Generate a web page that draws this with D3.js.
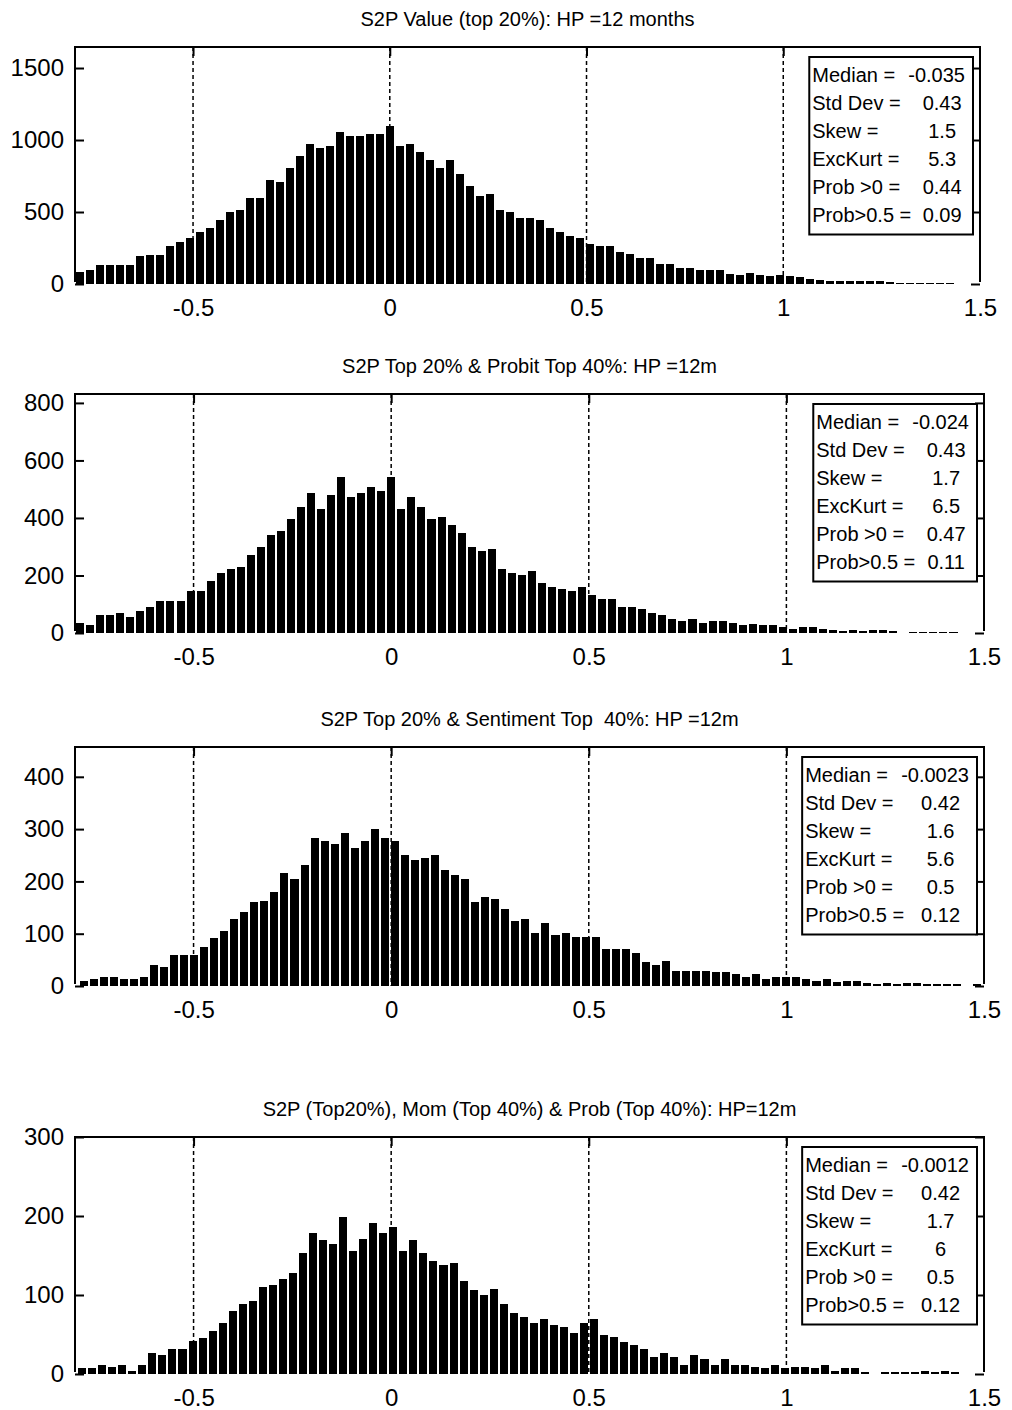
<!DOCTYPE html>
<html>
<head>
<meta charset="utf-8">
<script src="https://cdn.jsdelivr.net/npm/d3@7"></script>
<style>
  body { margin: 0; background: #fff; }
  svg { display: block; font-family: "Liberation Sans", Arial, sans-serif; }
  text { white-space: pre; }
</style>
</head>
<body>
<svg id="chart" width="1012" height="1410"></svg>
<script>
// Panel titles
const titles = [
  "S2P Value (top 20%): HP =12 months",
  "S2P Top 20% & Probit Top 40%: HP =12m",
  "S2P Top 20% & Sentiment Top  40%: HP =12m",
  "S2P (Top20%), Mom (Top 40%) & Prob (Top 40%): HP=12m"
];

// x axis (same for all four)
const xDomain = [-0.8, 1.5];
const xTicks = [-0.5, 0, 0.5, 1, 1.5];
const gridTicks = [-0.5, 0, 0.5, 1];

// histogram bins: centre of first bin per panel, common width
const firstBin = [-0.787, -0.787, -0.778, -0.782];
const binWidth = 0.0254;

// bar heights (counts per bin)
const counts1 = [81, 95, 134, 134, 134, 134, 192, 204, 204, 262, 289, 319, 359, 387, 444, 500, 512, 595, 595, 720,
  706, 803, 889, 970, 944, 958, 1053, 1028, 1028, 1042, 1042, 1095, 958, 972, 917, 861, 806, 861, 766, 678,
  611, 625, 514, 500, 458, 458, 444, 387, 361, 333, 317, 278, 262, 262, 220, 206, 181, 181, 137, 137,
  111, 111, 97, 97, 97, 72, 65, 79, 63, 56, 65, 58, 51, 37, 30, 23, 23, 23, 23, 23,
  23, 16, 8, 8, 8, 7, 7, 6];
const counts2 = [35, 27, 61, 61, 68, 56, 75, 89, 110, 110, 110, 146, 146, 181, 209, 223, 230, 271, 299, 342,
  355, 397, 439, 487, 431, 480, 543, 473, 487, 508, 494, 543, 431, 473, 439, 397, 403, 376, 348, 299,
  285, 292, 223, 209, 202, 216, 174, 160, 153, 146, 159, 132, 118, 118, 90, 90, 83, 70, 63, 49,
  42, 49, 35, 42, 42, 35, 28, 32, 28, 28, 21, 14, 21, 21, 14, 9, 6, 9, 6, 9,
  9, 6, 0, 5, 5, 5, 5, 5];
const counts3 = [10, 14, 18, 18, 14, 14, 18, 40, 37, 59, 59, 59, 75, 91, 106, 129, 141, 160, 163, 179,
  217, 205, 232, 283, 278, 271, 293, 263, 278, 301, 283, 278, 251, 240, 244, 251, 221, 213, 205, 160,
  171, 167, 148, 125, 129, 102, 121, 98, 102, 94, 94, 94, 71, 71, 71, 64, 45, 41, 48, 29,
  29, 29, 29, 26, 26, 22, 18, 22, 14, 18, 18, 18, 14, 10, 14, 8, 10, 10, 6, 4,
  6, 4, 6, 6, 4, 4, 4, 4, 0, 3];
const counts4 = [7, 7, 12, 9, 12, 4, 12, 27, 24, 32, 32, 42, 45, 55, 65, 80, 88, 93, 110, 113,
  120, 128, 153, 179, 169, 164, 199, 156, 171, 191, 179, 186, 156, 169, 153, 143, 138, 141, 118, 106,
  100, 108, 88, 77, 72, 65, 70, 62, 60, 52, 65, 70, 50, 47, 40, 37, 32, 22, 27, 22,
  12, 24, 19, 12, 19, 12, 12, 9, 7, 12, 7, 9, 9, 7, 12, 4, 7, 7, 2, 0,
  2, 2, 2, 2, 4, 2, 4, 2];

// y axes
const yTicks1 = [0, 500, 1000, 1500];
const yTicks2 = [0, 200, 400, 600, 800];
const yTicks3 = [0, 100, 200, 300, 400];
const yTicks4 = [0, 100, 200, 300];
const yMax = [1646, 831, 457, 300];

// legend box text
const statLabels = ["Median =", "Std Dev =", "Skew =", "ExcKurt =", "Prob >0 =", "Prob>0.5 ="];
const stats1 = ["-0.035", "0.43", "1.5", "5.3", "0.44", "0.09"];
const stats2 = ["-0.024", "0.43", "1.7", "6.5", "0.47", "0.11"];
const stats3 = ["-0.0023", "0.42", "1.6", "5.6", "0.5", "0.12"];
const stats4 = ["-0.0012", "0.42", "1.7", "6", "0.5", "0.12"];

const panels = [
  {title: titles[0], counts: counts1, yTicks: yTicks1, yMax: yMax[0], first: firstBin[0], stats: stats1},
  {title: titles[1], counts: counts2, yTicks: yTicks2, yMax: yMax[1], first: firstBin[1], stats: stats2},
  {title: titles[2], counts: counts3, yTicks: yTicks3, yMax: yMax[2], first: firstBin[2], stats: stats3},
  {title: titles[3], counts: counts4, yTicks: yTicks4, yMax: yMax[3], first: firstBin[3], stats: stats4}
];

// where each axes box sits on the page
const boxes = [
  {left: 75, right: 980, top: 47, bottom: 284},
  {left: 75, right: 984, top: 394, bottom: 633},
  {left: 75, right: 984, top: 747, bottom: 986},
  {left: 75, right: 984, top: 1137, bottom: 1374}
];

// plain numbers with a hyphen for minus, like matlab
const plain = d => String(d);

const svg = d3.select("#chart");
svg.append("rect").attr("width", 1012).attr("height", 1410).attr("fill", "#fff");

panels.forEach((p, i) => drawPanel(p, boxes[i]));

function drawPanel(p, box) {
  const x = d3.scaleLinear().domain(xDomain).range([box.left, box.right]);
  const y = d3.scaleLinear().domain([0, p.yMax]).range([box.bottom, box.top]);
  const g = svg.append("g");

  // dashed grid at x ticks (behind the bars)
  g.selectAll(".grid")
    .data(gridTicks)
    .join("line")
      .attr("x1", d => x(d)).attr("x2", d => x(d))
      .attr("y1", box.top).attr("y2", box.bottom)
      .attr("stroke", "#000")
      .attr("stroke-width", 1.5)
      .attr("stroke-dasharray", "4,3");

  // bars, 80% of bin width like matlab's hist
  const barW = x(0.8 * binWidth) - x(0);
  g.selectAll(".bar")
    .data(p.counts)
    .join("rect")
      .attr("x", (d, i) => x(p.first + i * binWidth) - barW / 2)
      .attr("width", barW)
      .attr("y", d => y(d))
      .attr("height", d => y(0) - y(d))
      .attr("fill", "#000")
      .attr("shape-rendering", "crispEdges");

  // left axis with labels, ticks pointing inward
  const left = g.append("g")
    .attr("transform", `translate(${box.left},0)`)
    .call(d3.axisLeft(y).tickValues(p.yTicks).tickSize(-9).tickPadding(11).tickFormat(plain));
  // right axis ticks only
  const right = g.append("g")
    .attr("transform", `translate(${box.right},0)`)
    .call(d3.axisRight(y).tickValues(p.yTicks).tickSize(-9).tickFormat(""));
  // top ticks
  const top = g.append("g")
    .attr("transform", `translate(0,${box.top})`)
    .call(d3.axisTop(x).tickValues(gridTicks).tickSize(-9).tickFormat(""));
  // bottom labels
  const bottom = g.append("g")
    .attr("transform", `translate(0,${box.bottom})`)
    .call(d3.axisBottom(x).tickValues(xTicks).tickSize(0).tickPadding(15).tickFormat(plain));

  [left, right, top, bottom].forEach(a => {
    a.select(".domain").remove();
    a.selectAll("line").attr("stroke-width", 2);
    a.selectAll("text").style("font-size", "24px").attr("fill", "#000");
  });

  // axes box (no bottom line in the original)
  g.append("path")
    .attr("d", `M${box.left},${box.bottom - 2}V${box.top}H${box.right}V${box.bottom - 2}`)
    .attr("fill", "none")
    .attr("stroke", "#000")
    .attr("stroke-width", 2);

  // title
  g.append("text")
    .attr("x", (box.left + box.right) / 2)
    .attr("y", box.top - 21)
    .attr("text-anchor", "middle")
    .style("font-size", "20px")
    .attr("fill", "#000")
    .text(p.title);

  // stats box in the upper right
  const leg = g.append("g");
  leg.selectAll(".lab")
    .data(statLabels)
    .join("text")
      .attr("x", 3)
      .attr("y", (d, i) => 25 + i * 27.9)
      .style("font-size", "20px")
      .attr("fill", "#000")
      .text(d => d);

  const med = leg.append("text")
    .attr("x", 99)
    .attr("y", 25)
    .style("font-size", "20px")
    .attr("fill", "#000")
    .text(p.stats[0]);
  const medW = med.node().getComputedTextLength();

  leg.selectAll(".val")
    .data(p.stats.slice(1))
    .join("text")
      .attr("x", 99 + medW / 2 + 5.5)
      .attr("y", (d, i) => 25 + (i + 1) * 27.9)
      .attr("text-anchor", "middle")
      .style("font-size", "20px")
      .attr("fill", "#000")
      .text(d => d);

  const legW = 99 + medW + 8;
  const legH = 177.5;
  leg.insert("rect", ":first-child")
    .attr("width", legW)
    .attr("height", legH)
    .attr("fill", "#fff")
    .attr("stroke", "#000")
    .attr("stroke-width", 2);
  leg.attr("transform", `translate(${box.right - 7 - legW},${box.top + 10})`);
}
</script>
</body>
</html>
